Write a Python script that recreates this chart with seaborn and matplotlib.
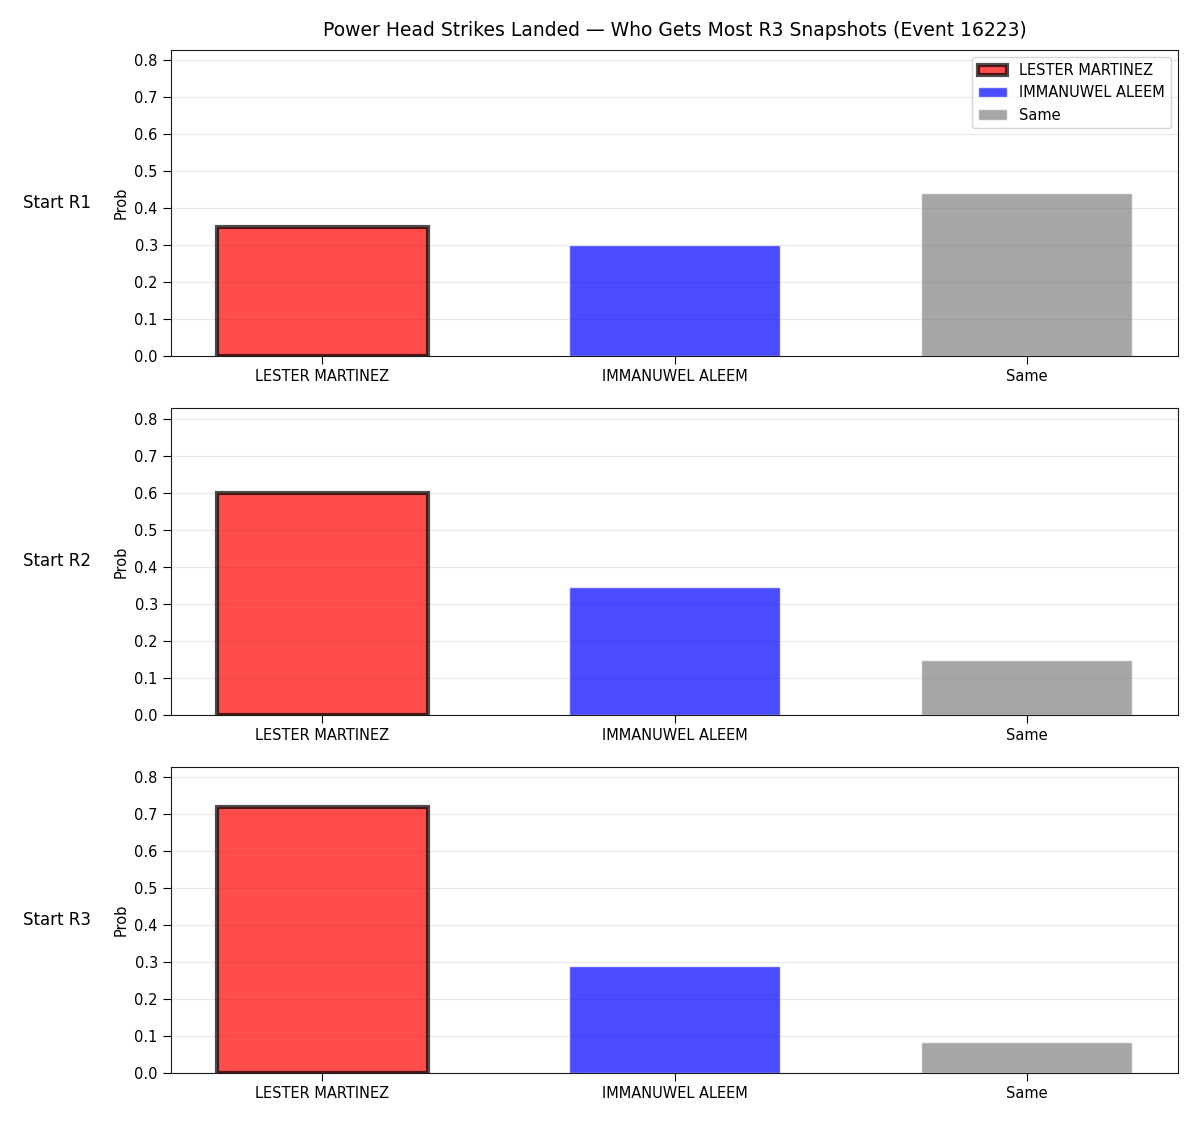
import matplotlib
matplotlib.use("Agg")
import matplotlib.pyplot as plt
from matplotlib.patches import Patch
import seaborn as sns

# categories and probabilities
fighters = ["LESTER MARTINEZ", "IMMANUWEL ALEEM", "Same"]
rows = ["Start R1", "Start R2", "Start R3"]
r1 = [0.35, 0.30, 0.44]
r2 = [0.60, 0.345, 0.147]
r3 = [0.72, 0.288, 0.084]
bar_colors = ["red", "blue", "gray"]

sns.set_style("ticks")
plt.rcParams['font.family'] = ['DejaVu Sans']
plt.rcParams.update({"text.color": "black", "axes.labelcolor": "black",
                     "xtick.color": "black", "ytick.color": "black",
                     "axes.edgecolor": "#1a1a1a"})

fig, axes = plt.subplots(3, 1, figsize=(12, 11.25), dpi=100)
fig.subplots_adjust(left=0.1425, right=0.9817, top=0.9556, bottom=0.0462, hspace=0.17)

all_vals = [r1, r2, r3]
ymax = max(max(v) for v in all_vals) * 1.15

for ax, label, vals in zip(axes, rows, all_vals):
    sns.barplot(x=fighters, y=vals, hue=fighters, palette=bar_colors, width=0.6,
                alpha=0.7, saturation=1, legend=False, ax=ax)
    # highlight the favourite
    best = vals.index(max(vals[:2]))
    ax.patches[best].set_edgecolor("black")
    ax.patches[best].set_linewidth(3)
    ax.set_xlim(-0.43, 2.43)
    ax.set_ylim(0, ymax)
    ax.set_yticks([0, 0.1, 0.2, 0.3, 0.4, 0.5, 0.6, 0.7, 0.8])
    ax.grid(axis="y", color="#b0b0b0", alpha=0.3)
    ax.set_ylabel("Prob", fontsize=10.5)
    ax.set_xlabel("")
    ax.tick_params(labelsize=10.5, length=6)
    for s in ax.spines.values():
        s.set_visible(True)
    pos = ax.get_position()
    fig.text(0.019, (pos.y0 + pos.y1) / 2, label, fontsize=12, va="center", ha="left")

handles = [Patch(facecolor="red", alpha=0.7, edgecolor="black", linewidth=3, label=fighters[0]),
           Patch(facecolor="blue", alpha=0.7, label=fighters[1]),
           Patch(facecolor="gray", alpha=0.7, label=fighters[2])]
axes[0].legend(handles=handles, loc="upper right", fontsize=10.5)

axes[0].set_title("Power Head Strikes Landed \u2014 Who Gets Most R3 Snapshots (Event 16223)",
                  fontsize=13.5, pad=10)

plt.savefig("out.png")
